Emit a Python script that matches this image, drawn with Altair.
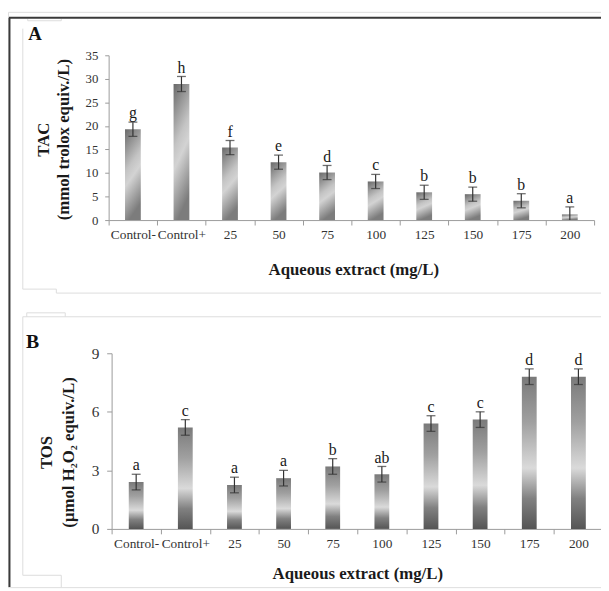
import altair as alt
import pandas as pd
import numpy as np

categories = ["Control-", "Control+", "25", "50", "75", "100", "125", "150", "175", "200"]

tac_values = [19.3, 28.9, 15.4, 12.3, 10.1, 8.2, 5.9, 5.5, 4.1, 1.2]
tac_errors = [1.5, 1.6, 1.5, 1.5, 1.5, 1.5, 1.5, 1.5, 1.5, 1.6]
tac_letters = ["g", "h", "f", "e", "d", "c", "b", "b", "b", "a"]
tac_ticks = [0, 5, 10, 15, 20, 25, 30, 35]

tos_values = [2.4, 5.2, 2.25, 2.6, 3.2, 2.8, 5.4, 5.6, 7.8, 7.8]
tos_errors = [0.4, 0.4, 0.4, 0.4, 0.4, 0.4, 0.4, 0.4, 0.4, 0.4]
tos_letters = ["a", "c", "a", "a", "b", "ab", "c", "c", "d", "d"]
tos_ticks = [0, 3, 6, 9]

SERIF = "Liberation Serif"
DARK = "#333333"
AXIS_GRAY = "#9a9a9a"
LIGHT = "#dcdcdc"
FRAME = "#3a3a3a"
W, H = 601, 583  # whole chart (page 8..609, 8..591)

grad_a = alt.Gradient(
    gradient="linear", x1=0, y1=0, x2=0.25, y2=1,
    stops=[alt.GradientStop(offset=0, color="#696969"),
           alt.GradientStop(offset=0.45, color="#c4c4c4"),
           alt.GradientStop(offset=0.6, color="#d3d3d3"),
           alt.GradientStop(offset=1, color="#7c7c7c")])
grad_b = alt.Gradient(
    gradient="linear", x1=0, y1=0, x2=0, y2=1,
    stops=[alt.GradientStop(offset=0, color="#7a7a7a"),
           alt.GradientStop(offset=0.3, color="#a0a0a0"),
           alt.GradientStop(offset=0.6, color="#dadada"),
           alt.GradientStop(offset=0.8, color="#818181"),
           alt.GradientStop(offset=1, color="#555555")])

one = pd.DataFrame({"d": [0]})


def deco(segs, color, width):
    out = []
    for (x1, y1, x2, y2) in segs:
        out.append(alt.Chart(one).mark_rule(color=color, strokeWidth=width).encode(
            x=alt.value(x1), x2=alt.value(x2), y=alt.value(y1), y2=alt.value(y2)))
    return out


def panel(values, errors, letters, ticks, ymax, grad, bar_w, xr, yr,
          ytitle, ytitle_x, ytitle_y, ytitle_lh, ylab_size, ylab_pad, ytick,
          xtitle_x, xtitle_y, letter_size):
    df = pd.DataFrame({"cat": categories, "v": values, "e": errors, "lab": letters})
    df["hi"] = df["v"] + df["e"]
    df["lo"] = np.maximum(df["v"] - df["e"], 0)
    xaxis = alt.Axis(orient="bottom", offset=yr[0] - H,
                     title="Aqueous extract (mg/L)", labelAngle=0, tickBand="extent",
                     domainColor=AXIS_GRAY, tickColor=AXIS_GRAY, tickSize=5,
                     labelFont=SERIF, labelFontSize=13.5, labelColor=DARK,
                     labelPadding=3, labelOverlap=False,
                     titleFont=SERIF, titleFontSize=17, titleFontWeight="bold",
                     titleColor="#1a1a1a", titleX=xtitle_x, titleY=xtitle_y,
                     titleBaseline="middle")
    yaxis = alt.Axis(orient="left", offset=-xr[0], values=ticks, grid=False,
                     domainColor=AXIS_GRAY, tickColor=AXIS_GRAY, tickSize=ytick,
                     labelOverlap=False, labelFont=SERIF, labelFontSize=ylab_size,
                     labelColor=DARK, labelPadding=ylab_pad,
                     title=ytitle, titleFont=SERIF, titleFontSize=17,
                     titleFontWeight="bold", titleColor="#1a1a1a",
                     titleAngle=270, titleAlign="center", titleBaseline="middle",
                     titleX=ytitle_x, titleY=ytitle_y, titleLineHeight=ytitle_lh)
    xscale = alt.Scale(paddingInner=0, paddingOuter=0, range=list(xr))
    yscale = alt.Scale(domain=[0, ymax], nice=False, range=list(yr))
    x = alt.X("cat:N", sort=categories, scale=xscale, axis=xaxis)

    def Y(f):
        return alt.Y(f, scale=yscale, axis=yaxis)

    base = alt.Chart(df)
    bars = base.mark_bar(width=bar_w, fill=grad).encode(x=x, y=Y("v:Q"))
    rules = base.mark_rule(color=DARK, strokeWidth=1.2).encode(x=x, y=Y("lo:Q"), y2="hi:Q")
    cap_hi = base.mark_tick(color=DARK, size=9, thickness=1.3, orient="horizontal").encode(
        x=x, y=Y("hi:Q"))
    cap_lo = base.transform_filter("datum.v - datum.e > 0").mark_tick(
        color=DARK, size=9, thickness=1.3, orient="horizontal").encode(x=x, y=Y("lo:Q"))
    text = base.mark_text(baseline="alphabetic", dy=-4, font=SERIF, fontSize=letter_size,
                          color="#1a1a1a").encode(x=x, y=Y("hi:Q"), text="lab:N")
    return alt.layer(bars, rules, cap_hi, cap_lo, text)


# chart coordinates = page coordinates - 8
panel_a = panel(tac_values, tac_errors, tac_letters, tac_ticks, 35, grad_a, 16,
                (102, 594), (211, 44),
                ["TAC", "(mmol trolox equiv./L)"], -66, 129, 20, 13, 7, 4,
                350, 50, 16)
panel_b = panel(tos_values, tos_errors, tos_letters, tos_ticks, 9, grad_b, 15,
                (105, 603), (524, 346),
                ["TOS", "(μmol H₂O₂ equiv./L)"], -66, 446, 22, 15.5, 8, 5,
                354, 45, 16)

decos = []
decos += deco([(15, 17, 15, 281), (15, 281, 49, 281), (49, 281, 49, 285), (49, 285, 601, 285),
               (20, 9, 54, 9), (20, 7, 20, 9), (54, 7, 54, 9)], LIGHT, 1)
decos += deco([(15, 309, 601, 309), (19, 305, 58, 305), (19, 305, 19, 309), (58, 305, 58, 309),
               (15, 309, 15, 571), (15, 571, 54, 571), (54, 571, 54, 583)], LIGHT, 1)
decos += deco([(1, 6, 601, 6), (1.5, 6, 1.5, 583)], FRAME, 2)
decos.append(alt.Chart(one).mark_text(font=SERIF, fontSize=19, fontWeight="bold",
                                      color="#111111").encode(
    x=alt.value(27.5), y=alt.value(22.5), text=alt.value("A")))
decos.append(alt.Chart(one).mark_text(font=SERIF, fontSize=20, fontWeight="bold",
                                      color="#111111").encode(
    x=alt.value(25), y=alt.value(334.5), text=alt.value("B")))

chart = alt.layer(panel_a, panel_b, *decos).resolve_scale(
    x="independent", y="independent"
).properties(
    width=W, height=H, padding=0, autosize=alt.AutoSizeParams(type="none")
).configure_view(strokeWidth=0).configure(background="white")

chart.save("out.html", embed_options={"renderer": "svg", "actions": False})
